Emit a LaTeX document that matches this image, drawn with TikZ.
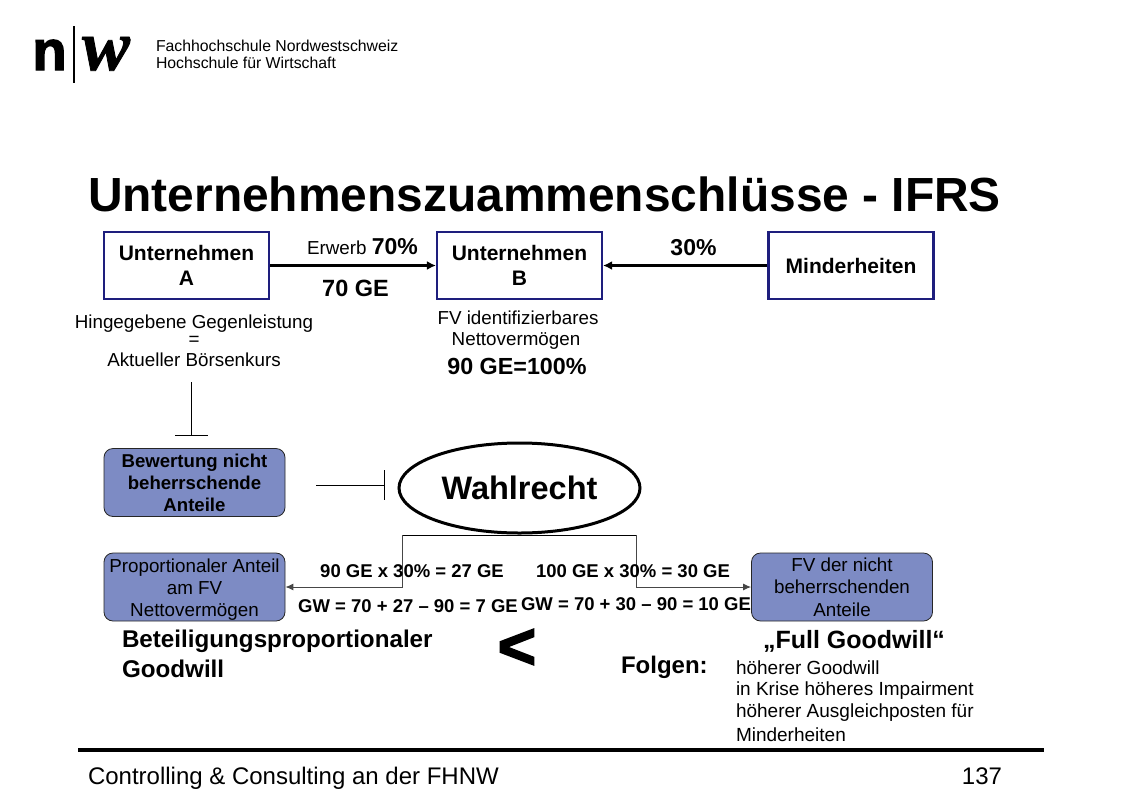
\documentclass[tikz,border=0pt]{standalone}
\usepackage{fontspec}
\setmainfont{Liberation Sans}
\newfontfamily\logoserif[FakeBold=1.2]{Liberation Serif}
\newfontfamily\logosans[FakeBold=2.5]{Liberation Sans}
\usetikzlibrary{shapes.geometric,arrows.meta}
\newcommand{\fs}[1]{\fontsize{#1}{#1}\selectfont}
\newcommand{\fl}[2]{\fontsize{#1}{#2}\selectfont}
\definecolor{boxblue}{RGB}{125,139,196}
\definecolor{navy}{RGB}{30,30,125}
\definecolor{linegray}{RGB}{70,70,70}
\tikzset{
 x=1pt,y=-1pt,
 txt/.style={inner sep=0pt,outer sep=0pt,align=center,text=black},
 whitebox/.style={draw=navy,line width=2.2pt,fill=white,minimum width=165,minimum height=67,inner sep=0pt,align=center,font=\fl{21}{25}\bfseries,text=black},
 bluebox/.style={draw=black!85,line width=0.8pt,fill=boxblue,rounded corners=9,minimum width=181,minimum height=68,inner sep=0pt,align=center,text=black},
 heavy/.style={line width=2.6pt,-{Latex[length=9pt,width=9pt]}},
 thin line/.style={line width=0.8pt},
 elbow/.style={draw=linegray,line width=1pt},
 elbowarrow/.style={elbow,-{Latex[length=8pt,width=7pt]}},
}
\begin{document}
\begin{tikzpicture}
\useasboundingbox (0,0) rectangle (1122,793);
% logo
\node[txt,anchor=base] (logon) at (49.5,70) {\logosans\fs{56}\bfseries n};
\node[txt,anchor=base] (logow) at (106,70) {\logoserif\fs{72}\bfseries\itshape w};
\coordinate (bartop) at (74,26);
\coordinate (barbot) at (74,83);
\draw[line width=1.1pt] (bartop) -- (barbot);
\node[txt,anchor=west] (logo1) at (156,46) {\fs{15.8}Fachhochschule Nordwestschweiz};
\node[txt,anchor=west] (logo2) at (156,63) {\fs{15.8}Hochschule für Wirtschaft};
% title
\node[txt,anchor=west] (title) at (88,194) {\fs{47.9}\bfseries Unternehmenszuammenschlüsse - IFRS};
% top boxes
\node[whitebox] (A) at (186.5,265.5) {Unternehmen\\A};
\node[whitebox] (B) at (519.5,265.5) {Unternehmen\\B};
\node[whitebox] (M) at (851,265.5) {Minderheiten};
\draw[heavy] (A) -- (B);
\draw[heavy] (M) -- (B);
\node[txt,anchor=base west] (erwerb) at (307,254) {\fs{18.8}Erwerb \fs{23}\bfseries 70\%};
\node[txt,anchor=center] (ge70) at (355.5,288) {\fs{23.5}\bfseries 70 GE};
\node[txt,anchor=center] (p30) at (693.5,248) {\fs{23}\bfseries 30\%};
% left text
\node[txt,anchor=center] (hg1) at (194,324) {\fs{18.8}Hingegebene Gegenleistung};
\node[txt,anchor=center] (hg2) at (194,341) {\fs{18.8}=};
\node[txt,anchor=center] (hg3) at (194,360) {\fs{18.8}Aktueller Börsenkurs};
% FV text
\node[txt,anchor=center] (fv1) at (518,318) {\fs{18.8}FV identifizierbares};
\node[txt,anchor=center] (fv2) at (516,341) {\fs{18.8}Nettovermögen};
\node[txt,anchor=center] (fv3) at (517,366) {\fs{23.3}\bfseries 90 GE=100\%};
% T symbols
\coordinate (t1a) at (191,382); \coordinate (t1b) at (191,435);
\coordinate (t1l) at (175,435); \coordinate (t1r) at (208,435);
\draw[thin line] (t1a) -- (t1b);
\draw[thin line] (t1l) -- (t1r);
\coordinate (t2a) at (316,485); \coordinate (t2b) at (384,485);
\coordinate (t2t) at (384,470); \coordinate (t2u) at (384,500);
\draw[thin line] (t2a) -- (t2b);
\draw[thin line] (t2t) -- (t2u);
% blue boxes
\node[bluebox,font=\fl{18.6}{22}\bfseries] (bew) at (194.5,482.5) {Bewertung nicht\\beherrschende\\Anteile};
\node[bluebox,font=\fl{18.8}{22}] (prop) at (194.5,587) {\rule{0pt}{18pt}Proportionaler Anteil\\am FV\\Nettovermögen};
\node[bluebox,font=\fl{18.8}{22.5}] (fvn) at (842,587) {FV der nicht\\beherrschenden\\Anteile};
% ellipse
\node[ellipse,draw=black,line width=3pt,fill=white,minimum width=241,minimum height=90,inner sep=0pt,font=\fs{32.5}\bfseries] (wahl) at (519.5,488) {Wahlrecht};
% elbow connectors
\coordinate (jl) at (402,535); \coordinate (jr) at (636,535);
\coordinate (dl) at (402,587); \coordinate (dr) at (636,587);
\draw[draw=black,line width=1pt] (jl) -- (jr);
\draw[elbowarrow] (jl) -- (dl) -- (prop.east);
\draw[elbowarrow] (jr) -- (dr) -- (fvn.west);
% formulas
\node[txt,anchor=center] (f1) at (412,571) {\fs{18.5}\bfseries 90 GE x 30\% = 27 GE};
\node[txt,anchor=center] (f2) at (633,571) {\fs{18.5}\bfseries 100 GE x 30\% = 30 GE};
\node[txt,anchor=center] (f3) at (408,606) {\fs{18.5}\bfseries GW = 70 + 27 – 90 = 7 GE};
\node[txt,anchor=center] (f4) at (636,604) {\fs{18.5}\bfseries GW = 70 + 30 – 90 = 10 GE};
% bottom labels
\node[txt,anchor=west,align=left] (bg1) at (122,641) {\fs{24.2}\bfseries Beteiligungsproportionaler};
\node[txt,anchor=west,align=left] (bg2) at (122,669) {\fs{24.2}\bfseries Goodwill};
\node[txt,anchor=center] (lt) at (517,649) {\logosans\fs{66}\bfseries <};
\node[txt,anchor=center] (fg) at (854,641) {\fs{25}\bfseries „Full Goodwill“};
\node[txt,anchor=west] (folgen) at (621,667) {\fs{24}\bfseries Folgen:};
\node[txt,anchor=west] (k1) at (736,668) {\fs{19}höherer Goodwill};
\node[txt,anchor=west] (k2) at (736,691) {\fs{19}in Krise höheres Impairment};
\node[txt,anchor=west] (k3) at (736,713) {\fs{19}höherer Ausgleichposten für};
\node[txt,anchor=west] (k4) at (736,735) {\fs{19}Minderheiten};
% footer
\coordinate (fl) at (78,750); \coordinate (fr) at (1044,750);
\draw[line width=3.4pt] (fl) -- (fr);
\node[txt,anchor=base west] (foot) at (88,784) {\fs{24}Controlling \& Consulting an der FHNW};
\node[txt,anchor=base east] (page) at (1002,784) {\fs{24}137};
\end{tikzpicture}
\end{document}
